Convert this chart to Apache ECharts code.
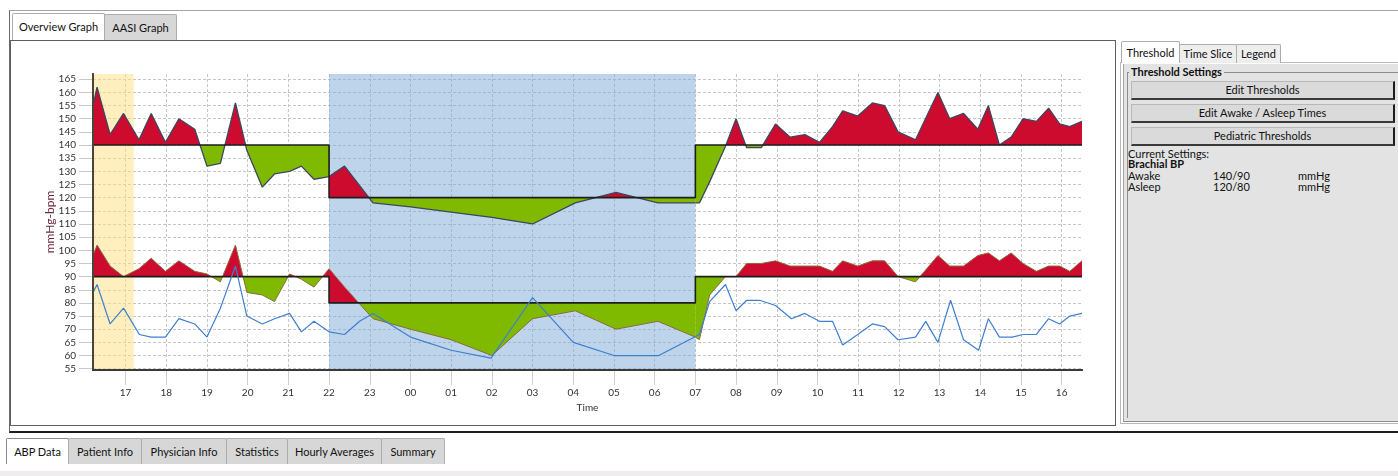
<!DOCTYPE html>
<html>
<head>
<meta charset="utf-8">
<title>ABP Overview Graph</title>
<script src="https://cdn.jsdelivr.net/npm/echarts@6.0.0/dist/echarts.min.js"></script>
<style>
  body { margin: 0; background: #fff; font-family: Lato, 'Noto Sans', sans-serif; font-size: 11px; color: #111; }
  #page { position: relative; width: 1398px; height: 476px; overflow: hidden; }
  .box { position: absolute; box-sizing: border-box; }
  .tab { position: absolute; box-sizing: border-box; border: 1px solid #adadad; border-bottom: none; background: #d7d7d7; text-align: center; white-space: nowrap; border-radius: 2px 2px 0 0; }
  .tab.on { background: #fff; }
  .btn { position: absolute; box-sizing: border-box; left: 1131px; width: 264px; height: 19px; line-height: 16px; background: #dadada; border: 1px solid #b8b8b8; border-right: 2px solid #1c1c1c; border-bottom: 2px solid #3a3a3a; text-align: center; }
  .txt { position: absolute; white-space: nowrap; line-height: 12px; }
  #chart { position: absolute; left: 0; top: 0; width: 1398px; height: 476px; pointer-events: none; }
</style>
</head>
<body>
<div id="page">
  <!-- outer tab control -->
  <div class="box" style="left:9px;top:10px;width:1389px;height:423px;border-top:1px solid #a4a4a4;border-left:1px solid #6a6a6a;border-bottom:2px solid #1e1e1e;"></div>
  <div class="box" style="left:10px;top:40px;width:1106px;height:386px;border:1px solid #5e5e5e;background:#fff;"></div>
  <div class="tab on" style="left:12px;top:13px;width:93px;height:27px;line-height:26px;">Overview Graph</div>
  <div class="tab" style="left:104px;top:14px;width:73px;height:26px;line-height:25px;">AASI Graph</div>

  <!-- right side panel -->
  <div class="box" style="left:1120px;top:62px;width:278px;height:362px;border:1px solid #b9b9b9;border-right:none;"></div>
  <div class="box" style="left:1123px;top:64px;width:275px;height:358px;background:#e3e3e3;border-left:1px solid #a3a3a3;border-bottom:1px solid #8e8e8e;"></div>
  <div class="box" style="left:1127px;top:72px;width:271px;height:346px;border-top:1px solid #8c8c8c;border-left:1px solid #8c8c8c;"></div>
  <div class="txt" style="left:1129px;top:66px;padding:0 2px;background:#e3e3e3;font-weight:bold;">Threshold Settings</div>
  <div class="tab on" style="left:1121px;top:41px;width:59px;height:22px;line-height:21px;">Threshold</div>
  <div class="tab" style="left:1179px;top:44px;width:58px;height:19px;line-height:18px;background:#eeeeee;">Time Slice</div>
  <div class="tab" style="left:1236px;top:44px;width:45px;height:19px;line-height:18px;background:#eeeeee;">Legend</div>
  <div class="btn" style="top:81px;">Edit Thresholds</div>
  <div class="btn" style="top:104px;">Edit Awake / Asleep Times</div>
  <div class="btn" style="top:127px;">Pediatric Thresholds</div>
  <div class="txt" style="left:1128px;top:148px;">Current Settings:</div>
  <div class="txt" style="left:1128px;top:158px;font-weight:bold;">Brachial BP</div>
  <div class="txt" style="left:1128px;top:170px;">Awake</div>
  <div class="txt" style="left:1213px;top:170px;">140/90</div>
  <div class="txt" style="left:1298px;top:170px;">mmHg</div>
  <div class="txt" style="left:1128px;top:181px;">Asleep</div>
  <div class="txt" style="left:1213px;top:181px;">120/80</div>
  <div class="txt" style="left:1298px;top:181px;">mmHg</div>

  <!-- bottom tabs -->
  <div class="tab on" style="left:6px;top:438px;width:63px;height:26px;line-height:26px;border-color:#8a8a8a;">ABP Data</div>
  <div class="tab" style="left:68px;top:438px;width:74px;height:26px;line-height:26px;">Patient Info</div>
  <div class="tab" style="left:141px;top:438px;width:86px;height:26px;line-height:26px;">Physician Info</div>
  <div class="tab" style="left:226px;top:438px;width:62px;height:26px;line-height:26px;">Statistics</div>
  <div class="tab" style="left:287px;top:438px;width:95px;height:26px;line-height:26px;">Hourly Averages</div>
  <div class="tab" style="left:381px;top:438px;width:64px;height:26px;line-height:26px;">Summary</div>
  <div class="box" style="left:0;top:471px;width:1398px;height:5px;background:#efeded;"></div>

  <div id="chart"></div>
</div>
<script>
// hours are counted from midnight of the first day, so 31 = 07:00 next day
var bpTimes = [16.2, 16.3, 16.62, 16.95, 17.33, 17.63, 17.98, 18.31, 18.7, 19.0,
    19.33, 19.7, 19.98, 20.36, 20.66, 21.03, 21.32, 21.63, 22.0, 22.38,
    23.08, 24.0, 25.0, 26.0, 27.0, 28.05, 29.05, 30.08, 31.0, 31.1,
    31.35, 31.74, 32.0, 32.26, 32.62, 32.97, 33.33, 33.69, 34.05, 34.37,
    34.62, 34.99, 35.35, 35.65, 35.98, 36.41, 36.96, 37.25, 37.59, 37.94,
    38.2, 38.47, 38.76, 39.05, 39.38, 39.68, 39.95, 40.2, 40.5];
var sysValues = [155, 162, 144, 152, 142, 152, 141, 150, 146, 132,
    133, 156, 138, 124, 129, 130, 132, 127, 128, 132,
    118, 116.5, 114.5, 112.5, 110, 118, 122, 118, 118, 118,
    126, 139.5, 150, 139, 139, 148, 143, 144, 141, 147,
    153, 151, 156, 155, 145, 142, 160, 150, 152, 146,
    155, 140, 143, 150, 149, 154, 148, 147, 149];
var diaValues = [98, 102, 94, 90, 93, 97, 92, 96, 92, 91,
    88, 102, 84, 83, 80.5, 91, 89, 86, 93, 86,
    74, 70, 66, 60, 74, 77, 70, 73, 67, 66,
    83, 90, 90, 95, 95, 96, 94, 94, 94, 92,
    96, 94, 96, 96, 90, 88, 98, 94, 94, 98,
    99, 96, 99, 95, 92, 94, 94, 92, 96];
var hrTimes = [16.2, 16.3, 16.62, 16.95, 17.34, 17.63, 17.98, 18.31, 18.7, 19.0,
    19.33, 19.7, 19.98, 20.36, 20.66, 21.03, 21.32, 21.63, 22.0, 22.38,
    22.75, 23.08, 24.0, 25.0, 25.98, 27.0, 28.0, 29.0, 30.1, 31.1,
    31.35, 31.74, 32.0, 32.26, 32.58, 32.97, 33.36, 33.69, 34.05, 34.37,
    34.62, 34.99, 35.35, 35.65, 35.98, 36.41, 36.66, 36.96, 37.27, 37.59,
    37.96, 38.2, 38.47, 38.79, 39.05, 39.38, 39.68, 39.95, 40.2, 40.5];
var hrValues = [84, 87, 72, 78, 68, 67, 67, 74, 72, 67,
    78, 94, 75, 72, 74, 76, 69, 73, 69, 68,
    73, 76, 67, 62, 59, 82, 65, 60, 60, 68,
    80.5, 87, 77, 81, 81, 79, 74, 76, 73, 73,
    64, 68, 72, 71, 66, 67, 73, 65, 81, 66,
    62, 74, 67, 67, 68, 68, 74, 72, 75, 76];

// awake / asleep / awake periods and their limits
var phaseBounds = [16.2, 22, 31, 40.5];
var sysLimits = [140, 120, 140];
var diaLimits = [90, 80, 90];
var firstHourBand = [16.2, 17.2];
var hourTicks = [17, 18, 19, 20, 21, 22, 23, 24, 25, 26, 27, 28, 29, 30, 31, 32, 33, 34, 35, 36, 37, 38, 39, 40];
var valueTicks = [55, 60, 65, 70, 75, 80, 85, 90, 95, 100, 105, 110, 115, 120, 125, 130, 135, 140, 145, 150, 155, 160, 165];
var valueRange = [54.5, 167];

var RED = '#cd0b2e';
var GREEN = '#7fba00';
var gridDash = { type: [3, 2], color: '#c6c6c6', width: 1 };

function pairs(xs, ys) {
    var out = [];
    for (var i = 0; i < xs.length; i++) {
        out.push([xs[i], ys[i]]);
    }
    return out;
}

function phaseData(values, k) {
    var out = [];
    for (var i = 0; i < bpTimes.length; i++) {
        if (bpTimes[i] >= phaseBounds[k] && bpTimes[i] <= phaseBounds[k + 1]) {
            out.push([bpTimes[i], values[i]]);
        }
    }
    return out;
}

function limitLine(limits) {
    var out = [];
    for (var k = 0; k < limits.length; k++) {
        out.push([phaseBounds[k], limits[k]], [phaseBounds[k + 1], limits[k]]);
    }
    return out;
}

function hourLabel(v) {
    var h = Math.round(v) % 24;
    return h < 10 ? '0' + h : String(h);
}

var series = [{
    type: 'line',
    data: [],
    markArea: {
        silent: true,
        data: [
            [{ xAxis: firstHourBand[0], itemStyle: { color: 'rgba(255,223,128,0.5)', opacity: 1 } }, { xAxis: firstHourBand[1] }],
            [{ xAxis: phaseBounds[1], itemStyle: { color: 'rgba(123,169,215,0.5)', opacity: 1 } }, { xAxis: phaseBounds[2] }]
        ]
    }
}];
var visualMaps = [];

// red above the limit, green below it; the fill runs from the data line to the limit
[[sysValues, sysLimits, '#3d4660', 1.3], [diaValues, diaLimits, '#8c6a3c', 1]].forEach(function (s) {
    for (var k = 0; k < 3; k++) {
        visualMaps.push({
            type: 'piecewise',
            show: false,
            dimension: 1,
            seriesIndex: series.length,
            pieces: [
                { gte: 0, lt: s[1][k], color: GREEN },
                { gte: s[1][k], lte: 300, color: RED }
            ]
        });
        series.push({
            type: 'line',
            data: phaseData(s[0], k),
            symbol: 'none',
            z: 2,
            lineStyle: { color: s[2], width: s[3] },
            areaStyle: { origin: s[1][k], opacity: 1 }
        });
    }
});

series.push({
    type: 'line', data: limitLine(sysLimits), symbol: 'none', z: 3,
    lineStyle: { color: '#1e1e1e', width: 1.6 }
}, {
    type: 'line', data: limitLine(diaLimits), symbol: 'none', z: 3,
    lineStyle: { color: '#1e1e1e', width: 1.6 }
}, {
    type: 'line', data: pairs(hrTimes, hrValues), symbol: 'none', z: 4,
    lineStyle: { color: '#3d7fd1', width: 1.2 }
});

// second copies of the axes only carry the dark axis lines above the shaded bands
var lineOnly = { axisLabel: { show: false }, axisTick: { show: false }, splitLine: { show: false }, z: 10 };

var chart = echarts.init(document.getElementById('chart'));
chart.setOption({
    animation: false,
    textStyle: { fontFamily: 'Lato, "Noto Sans", sans-serif' },
    grid: { left: 93, top: 74, width: 989, height: 296 },
    visualMap: visualMaps,
    xAxis: [{
        type: 'value',
        position: 'bottom',
        min: phaseBounds[0],
        max: phaseBounds[3],
        name: 'Time',
        nameLocation: 'middle',
        nameGap: 30,
        nameTextStyle: { color: '#333', fontSize: 10 },
        axisLine: { onZero: false, lineStyle: { color: '#3a3a3a', width: 2 } },
        axisTick: { customValues: hourTicks, length: 15, lineStyle: { color: '#cfcfcf' } },
        axisLabel: { customValues: hourTicks, formatter: hourLabel, margin: 18, color: '#333', fontSize: 10 },
        splitLine: { show: true, lineStyle: gridDash }
    }, echarts.util.merge({
        type: 'value',
        position: 'bottom',
        min: phaseBounds[0],
        max: phaseBounds[3],
        axisLine: { show: true, onZero: false, lineStyle: { color: '#3a3a3a', width: 2 } }
    }, lineOnly)],
    yAxis: [{
        type: 'value',
        position: 'left',
        min: valueRange[0],
        max: valueRange[1],
        name: 'mmHg-bpm',
        nameLocation: 'middle',
        nameRotate: 90,
        nameGap: 37,
        nameMoveOverlap: false,
        nameTextStyle: { color: '#6b2a3a', fontSize: 12 },
        axisLine: { show: true, onZero: false, lineStyle: { color: '#4a4536', width: 2 } },
        axisTick: { show: true, customValues: valueTicks, length: 14, lineStyle: { color: '#c9c9c9' } },
        axisLabel: { customValues: valueTicks, margin: 17, color: '#333', fontSize: 10 },
        splitLine: { show: true, lineStyle: gridDash }
    }, echarts.util.merge({
        type: 'value',
        position: 'left',
        min: valueRange[0],
        max: valueRange[1],
        axisLine: { show: true, onZero: false, lineStyle: { color: '#4a4536', width: 2 } }
    }, lineOnly)],
    series: series
});
</script>
</body>
</html>
